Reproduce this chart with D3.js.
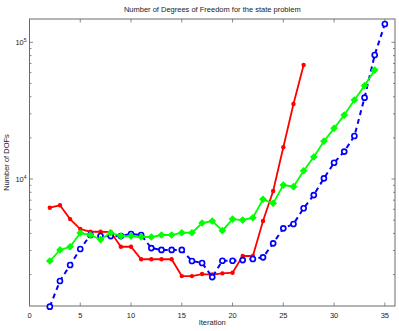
<!DOCTYPE html>
<html>
<head>
<meta charset="utf-8">
<script src="https://cdn.jsdelivr.net/npm/d3@7"></script>
<style>
  body { margin: 0; background: #fff; }
  text { font-family: "Liberation Sans", Arial, sans-serif; fill: #222; }
</style>
</head>
<body>
<div id="chart"></div>
<script>
const width = 399, height = 331

// iterations and DOF counts
const itersBlue = [2, 3, 4, 5, 6, 7, 8, 9, 10, 11, 12, 13, 14, 15, 16, 17, 18, 19, 20, 21, 22, 23, 24, 25, 26, 27, 28, 29, 30, 31, 32, 33, 34, 35]
const blueVals = [1164, 1795, 2349, 3076, 3894, 3830, 3828, 3828, 3960, 3894, 3127, 3027, 3027, 3027, 2514, 2430, 1919, 2525, 2525, 2553, 2600, 2675, 3388, 4357, 4688, 6110, 7637, 10118, 13150, 15890, 20640, 39350, 80740, 136100]

const itersRed = [2, 3, 4, 5, 6, 7, 8, 9, 10, 11, 12, 13, 14, 15, 16, 17, 18, 19, 20, 21, 22, 23, 24, 25, 26, 27]
const redVals = [6166, 6426, 5093, 4306, 4115, 4115, 4093, 3196, 3196, 2589, 2589, 2589, 2589, 1950, 1950, 2018, 2000, 2042, 2064, 2734, 2734, 4931, 8168, 17060, 35370, 68230]

const itersGreen = [2, 3, 4, 5, 6, 7, 8, 9, 10, 11, 12, 13, 14, 15, 16, 17, 18, 19, 20, 21, 22, 23, 24, 25, 26, 27, 28, 29, 30, 31, 32, 33, 34]
const greenVals = [2514, 3027, 3196, 4027, 3894, 3606, 4046, 3828, 3828, 3765, 3765, 3894, 3894, 4046, 4046, 4766, 4931, 4188, 5093, 5012, 5210, 7100, 6640, 9038, 8790, 11500, 14490, 18910, 23480, 29380, 37840, 48160, 62700]

const xTicks = [0, 5, 10, 15, 20, 25, 30, 35]
const yMajor = [1e4, 1e5]

const margin = { left: 29.5, right: 395, top: 19, bottom: 306 }

const x = d3.scaleLinear().domain([0, 36]).range([margin.left, margin.right])
const y = d3.scaleLog().domain([1178, 148100]).range([margin.bottom, margin.top])

const svg = d3.select("#chart").append("svg").attr("width", width).attr("height", height)

const axisColor = "#6a6a6a"

// ticks, pointing inward on all four sides
const yMinor = []
for (let e = 3; e <= 5; e++) {
    for (let m = 2; m <= 9; m++) {
        const v = m * Math.pow(10, e)
        if (v >= 1178 && v <= 148100) yMinor.push(v)
    }
}

const tickG = svg.append("g").attr("stroke", axisColor).attr("stroke-width", 0.8)
xTicks.forEach(t => {
    tickG.append("line").attr("x1", x(t)).attr("x2", x(t)).attr("y1", margin.bottom).attr("y2", margin.bottom - 3.5)
    tickG.append("line").attr("x1", x(t)).attr("x2", x(t)).attr("y1", margin.top).attr("y2", margin.top + 3.5)
})
yMajor.forEach(t => {
    tickG.append("line").attr("x1", margin.left).attr("x2", margin.left + 3.5).attr("y1", y(t)).attr("y2", y(t))
    tickG.append("line").attr("x1", margin.right).attr("x2", margin.right - 3.5).attr("y1", y(t)).attr("y2", y(t))
})
yMinor.forEach(t => {
    tickG.append("line").attr("x1", margin.left).attr("x2", margin.left + 2).attr("y1", y(t)).attr("y2", y(t))
    tickG.append("line").attr("x1", margin.right).attr("x2", margin.right - 2).attr("y1", y(t)).attr("y2", y(t))
})

svg.append("rect")
    .attr("x", margin.left).attr("y", margin.top)
    .attr("width", margin.right - margin.left).attr("height", margin.bottom - margin.top)
    .attr("fill", "none").attr("stroke", axisColor).attr("stroke-width", 1)

// tick labels
svg.append("g").selectAll("text")
    .data(xTicks)
    .join("text")
    .attr("x", d => x(d))
    .attr("y", margin.bottom + 12)
    .attr("text-anchor", "middle")
    .attr("font-size", 7.5)
    .text(d => d)

yMajor.forEach(t => {
    const lbl = svg.append("text")
        .attr("x", margin.left - 3)
        .attr("y", y(t) + 3)
        .attr("text-anchor", "end")
        .attr("font-size", 7.5)
    lbl.append("tspan").text("10")
    lbl.append("tspan").attr("dy", -3.5).attr("font-size", 5).text(Math.round(Math.log10(t)))
})

// titles
svg.append("text")
    .attr("x", (margin.left + margin.right) / 2).attr("y", 12)
    .attr("text-anchor", "middle").attr("font-size", 7.5)
    .text("Number of Degrees of Freedom for the state problem")

svg.append("text")
    .attr("x", (margin.left + margin.right) / 2).attr("y", 325)
    .attr("text-anchor", "middle").attr("font-size", 7.5)
    .text("Iteration")

svg.append("text")
    .attr("transform", `translate(9,${(margin.top + margin.bottom) / 2}) rotate(-90)`)
    .attr("text-anchor", "middle").attr("font-size", 7.5)
    .text("Number of DOFs")

const line = d3.line().x(d => x(d[0])).y(d => y(d[1]))

const plot = svg.append("g")

// red series
const redData = itersRed.map((d, i) => [d, redVals[i]])
plot.append("path").datum(redData)
    .attr("d", line).attr("fill", "none").attr("stroke", "#ff0000").attr("stroke-width", 1.8)
plot.append("g").selectAll("circle").data(redData).join("circle")
    .attr("cx", d => x(d[0])).attr("cy", d => y(d[1])).attr("r", 2.2)
    .attr("fill", "#ff0000")

// blue series
const blueData = itersBlue.map((d, i) => [d, blueVals[i]])
plot.append("path").datum(blueData)
    .attr("d", line).attr("fill", "none").attr("stroke", "#0000ff").attr("stroke-width", 2)
    .attr("stroke-dasharray", "5,4")
plot.append("g").selectAll("circle").data(blueData).join("circle")
    .attr("cx", d => x(d[0])).attr("cy", d => y(d[1])).attr("r", 2.5)
    .attr("fill", "#fff").attr("stroke", "#0000ff").attr("stroke-width", 1.7)

// green series, matlab-style diamonds (square turned 45deg)
const greenData = itersGreen.map((d, i) => [d, greenVals[i]])
plot.append("path").datum(greenData)
    .attr("d", line).attr("fill", "none").attr("stroke", "#00ff00").attr("stroke-width", 1.8)
plot.append("g").selectAll("path").data(greenData).join("path")
    .attr("d", d3.symbol().type(d3.symbolSquare).size(18))
    .attr("transform", d => `translate(${x(d[0])},${y(d[1])}) rotate(45)`)
    .attr("fill", "#00ff00").attr("stroke", "#00ff00").attr("stroke-width", 1.2)
</script>
</body>
</html>
